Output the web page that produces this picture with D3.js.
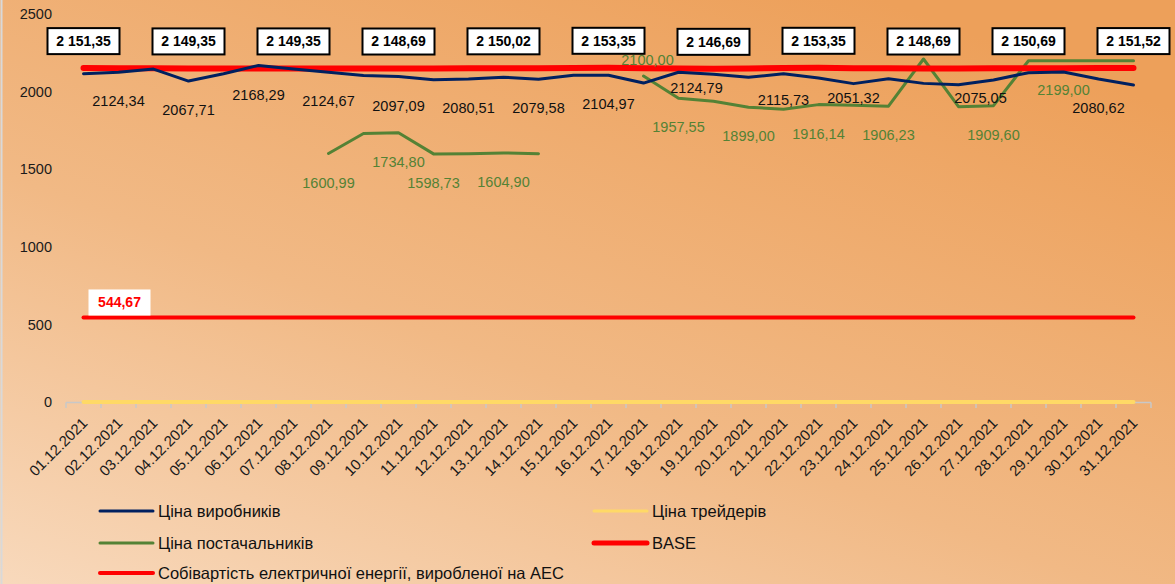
<!DOCTYPE html>
<html lang="uk">
<head>
<meta charset="UTF-8">
<title>Ціни грудень 2021</title>
<script src="https://cdnjs.cloudflare.com/ajax/libs/d3/7.8.5/d3.min.js"></script>
<style>
  html, body { margin: 0; padding: 0; background: #f2c090; }
  svg { display: block; font-family: "Liberation Sans", Arial, sans-serif; }
</style>
</head>
<body>
<div id="chart"></div>
<script>
// дати
var dates = ['01.12.2021','02.12.2021','03.12.2021','04.12.2021','05.12.2021','06.12.2021','07.12.2021',
  '08.12.2021','09.12.2021','10.12.2021','11.12.2021','12.12.2021','13.12.2021','14.12.2021','15.12.2021',
  '16.12.2021','17.12.2021','18.12.2021','19.12.2021','20.12.2021','21.12.2021','22.12.2021','23.12.2021',
  '24.12.2021','25.12.2021','26.12.2021','27.12.2021','28.12.2021','29.12.2021','30.12.2021','31.12.2021'];

// Ціна виробників
var producers = [2115, 2124.34, 2145, 2067.71, 2115, 2168.29, 2145, 2124.67, 2103, 2097.09, 2077, 2080.51,
  2093, 2079.58, 2105, 2104.97, 2055, 2124.79, 2112, 2092, 2115.73, 2088, 2051.32, 2083, 2053, 2044,
  2075.05, 2122, 2126, 2080.62, 2042];

// Ціна трейдерів
var traders = [0,0,0,0,0,0,0,0,0,0,0,0,0,0,0,0,0,0,0,0,0,0,0,0,0,0,0,0,0,0,0];

// Ціна постачальників (null = немає даних)
var suppliers = [null, null, null, null, null, null, null, 1600.99, 1730, 1734.80, 1598.73, 1600, 1604.90,
  1600, null, null, 2100.00, 1957.55, 1938, 1899.00, 1887, 1916.14, 1912, 1906.23, 2210, 1903, 1909.60,
  2199.00, 2199.00, 2199.00, 2199.00];

// BASE
var base = [2151.35, 2150.4, 2149.9, 2149.35, 2149.6, 2149.5, 2149.35, 2149.0, 2148.8, 2148.69, 2149.2,
  2149.7, 2150.02, 2151.0, 2152.3, 2153.35, 2151.2, 2148.6, 2146.69, 2149.5, 2151.8, 2153.35, 2151.0,
  2149.8, 2148.69, 2149.3, 2150.0, 2150.69, 2151.0, 2151.3, 2151.52];

// Собівартість електричної енергії, виробленої на АЕС
var npp = [544.67,544.67,544.67,544.67,544.67,544.67,544.67,544.67,544.67,544.67,544.67,544.67,544.67,544.67,
  544.67,544.67,544.67,544.67,544.67,544.67,544.67,544.67,544.67,544.67,544.67,544.67,544.67,544.67,
  544.67,544.67,544.67];

var yTicks = [0, 500, 1000, 1500, 2000, 2500];

// які точки підписані
var producerLabels = [1, 3, 5, 7, 9, 11, 13, 15, 17, 20, 22, 26, 29];
var supplierLabels = [7, 9, 10, 12, 16, 17, 19, 21, 23, 26, 28];
var baseLabels = [0, 3, 6, 9, 12, 15, 18, 21, 24, 27, 30];

var W = 1175, H = 584;
var fmtComma = function (v) { return v.toFixed(2).replace('.', ','); };
var fmtSpace = function (v) {
  var s = v.toFixed(2).replace('.', ',');
  return s.replace(/^(\d)(\d{3})/, '$1 $2');
};

var svg = d3.select('#chart').append('svg').attr('width', W).attr('height', H);

var defs = svg.append('defs');
var grad = defs.append('linearGradient').attr('id', 'bg')
  .attr('x1', '0%').attr('y1', '100%').attr('x2', '75%').attr('y2', '0%');
grad.append('stop').attr('offset', '0%').attr('stop-color', '#f8d9bc');
grad.append('stop').attr('offset', '45%').attr('stop-color', '#f1b985');
grad.append('stop').attr('offset', '100%').attr('stop-color', '#eda05a');
svg.append('rect').attr('width', W).attr('height', H).attr('fill', 'url(#bg)');
svg.append('line').attr('x1', 1.5).attr('x2', 1.5).attr('y1', 0).attr('y2', H)
  .attr('stroke', '#d9d9d9').attr('stroke-width', 2);

var x = d3.scaleBand().domain(dates).range([66, 1151]).padding(0);
var cx = function (i) { return x(dates[i]) + x.bandwidth() / 2; };
var y = d3.scaleLinear().domain([0, 2500]).range([402, 14]);

// y axis
var yAxis = d3.axisLeft(y).tickValues(yTicks).tickSize(0).tickPadding(0).tickFormat(d3.format('d'));
var gy = svg.append('g').attr('transform', 'translate(52,0)').call(yAxis);
gy.select('.domain').remove();
gy.selectAll('text').attr('font-size', 14.5).attr('fill', '#1a1a1a')
  .attr('font-family', '"Liberation Sans", Arial, sans-serif');

// x axis line and ticks between categories
svg.append('line').attr('x1', 66).attr('x2', 1151).attr('y1', 402.5).attr('y2', 402.5)
  .attr('stroke', '#c8c8c8').attr('stroke-width', 1.5);
var tickPos = dates.map(function (d) { return x(d); }).concat([x(dates[dates.length - 1]) + x.bandwidth()]);
svg.append('g').selectAll('line').data(tickPos).enter().append('line')
  .attr('x1', function (d) { return d; }).attr('x2', function (d) { return d; })
  .attr('y1', 402.5).attr('y2', 408).attr('stroke', '#c8c8c8').attr('stroke-width', 1.5);

svg.append('g').selectAll('text').data(dates).enter().append('text')
  .attr('transform', function (d, i) { return 'translate(' + (cx(i) + 5) + ',424) rotate(-45)'; })
  .attr('text-anchor', 'end').attr('font-size', 15).attr('fill', '#1a1a1a')
  .text(function (d) { return d; });

// lines
var line = d3.line()
  .defined(function (d) { return d != null; })
  .x(function (d, i) { return cx(i); })
  .y(function (d) { return y(d); });

function drawSeries(vals, color, width) {
  svg.append('path').datum(vals).attr('d', line).attr('fill', 'none')
    .attr('stroke', color).attr('stroke-width', width)
    .attr('stroke-linejoin', 'round').attr('stroke-linecap', 'round');
}
drawSeries(npp, '#ff0000', 4);
drawSeries(traders, '#ffd966', 4);
drawSeries(suppliers, '#548235', 3);
drawSeries(base, '#ff0000', 6);
drawSeries(producers, '#002060', 3);

// підписи виробників (зсуви для кількох вручну)
var prodShift = { 17: [18, 16], 20: [0, 26], 22: [0, 14], 26: [-13, 18] };
svg.append('g').selectAll('text').data(producerLabels).enter().append('text')
  .attr('x', function (i) { return cx(i) + (prodShift[i] ? prodShift[i][0] : 0); })
  .attr('y', function (i) { return y(producers[i]) + (prodShift[i] ? prodShift[i][1] : 29); })
  .attr('dy', '0.35em').attr('text-anchor', 'middle').attr('font-size', 14.5).attr('fill', '#111')
  .text(function (i) { return fmtComma(producers[i]); });

var supShift = { 16: [4, -16] };
svg.append('g').selectAll('text').data(supplierLabels).enter().append('text')
  .attr('x', function (i) { return cx(i) + (supShift[i] ? supShift[i][0] : 0); })
  .attr('y', function (i) { return y(suppliers[i]) + (supShift[i] ? supShift[i][1] : 29); })
  .attr('dy', '0.35em').attr('text-anchor', 'middle').attr('font-size', 14.5).attr('fill', '#548235')
  .text(function (i) { return fmtComma(suppliers[i]); });

// BASE у рамках
var gb = svg.append('g').selectAll('g').data(baseLabels).enter().append('g')
  .attr('transform', function (i) { return 'translate(' + cx(i) + ',' + (y(base[i]) - 27) + ')'; });
gb.append('rect').attr('x', -36).attr('y', -13).attr('width', 72).attr('height', 26)
  .attr('fill', '#fff').attr('stroke', '#000').attr('stroke-width', 2);
gb.append('text').attr('text-anchor', 'middle').attr('dy', '0.35em')
  .attr('font-size', 14).attr('font-weight', 'bold').attr('fill', '#000')
  .text(function (i) { return fmtSpace(base[i]); });

// собівартість АЕС
var gn = svg.append('g').attr('transform', 'translate(' + (cx(0) + 36) + ',' + (y(npp[0]) - 15) + ')');
gn.append('rect').attr('x', -31).attr('y', -13).attr('width', 62).attr('height', 26).attr('fill', '#fff');
gn.append('text').attr('text-anchor', 'middle').attr('dy', '0.35em').attr('font-size', 14)
  .attr('font-weight', 'bold').attr('fill', '#ff0000').text(fmtComma(npp[0]));

// легенда
var legend = [
  { name: 'Ціна виробників', color: '#002060', w: 3, x: 100, y: 511 },
  { name: 'Ціна трейдерів', color: '#ffd966', w: 3, x: 594, y: 511 },
  { name: 'Ціна постачальників', color: '#548235', w: 3, x: 100, y: 543 },
  { name: 'BASE', color: '#ff0000', w: 5, x: 594, y: 543 },
  { name: 'Собівартість електричної енергії, виробленої на АЕС', color: '#ff0000', w: 4, x: 100, y: 573 }
];
var lg = svg.append('g').selectAll('g').data(legend).enter().append('g')
  .attr('transform', function (d) { return 'translate(' + d.x + ',' + d.y + ')'; });
lg.append('line').attr('x1', 0).attr('x2', 53).attr('stroke', function (d) { return d.color; })
  .attr('stroke-width', function (d) { return d.w; }).attr('stroke-linecap', 'round');
lg.append('text').attr('x', 58).attr('dy', '0.35em').attr('font-size', 16.5).attr('fill', '#111')
  .text(function (d) { return d.name; });
</script>
</body>
</html>
